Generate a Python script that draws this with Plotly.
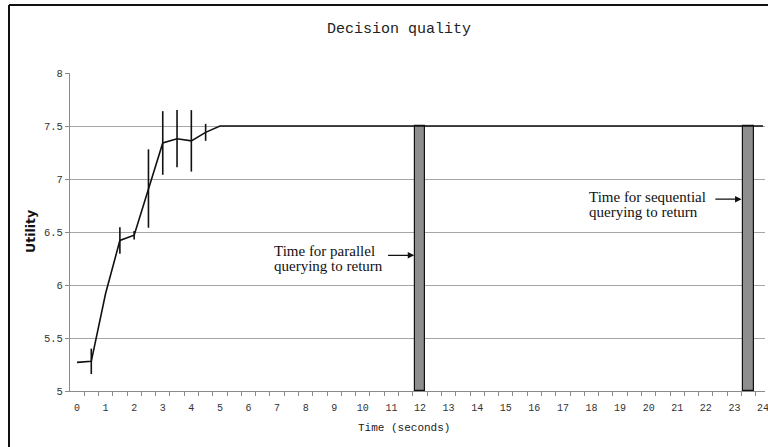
import plotly.graph_objects as go

# Mean utility of the decision over time, with spread of the estimate
time_s = [0, 0.5, 1, 1.5, 2, 2.5, 3, 3.5, 4, 4.5, 5, 24]
utility = [5.27, 5.28, 5.92, 6.42, 6.47, 6.91, 7.34, 7.38, 7.36, 7.44, 7.5, 7.5]
utility_err = [0, 0.12, 0, 0.125, 0.04, 0.37, 0.30, 0.27, 0.29, 0.08, 0, 0]

# Moments when each querying strategy returns its answer
return_times = [12, 23.5]
return_utility = [7.5, 7.5]
axis_floor = 5

x_ticks = list(range(0, 25))
y_ticks = [5, 5.5, 6, 6.5, 7, 7.5, 8]

MONO = "Liberation Mono, Courier New, monospace"
SERIF = "Liberation Serif, Times New Roman, serif"
INK = "#111111"
AXIS = "#8a8a8a"

fig = go.Figure()

fig.add_trace(go.Bar(
    x=return_times,
    y=[u - axis_floor for u in return_utility],
    base=axis_floor,
    width=0.38,
    marker=dict(color="#8e8e8e", line=dict(color=INK, width=1.2)),
    showlegend=False,
    hoverinfo="skip",
))

fig.add_trace(go.Scatter(
    x=time_s,
    y=utility,
    mode="lines",
    line=dict(color=INK, width=1.6),
    error_y=dict(type="data", array=utility_err, visible=True,
                 color=INK, thickness=1.6, width=0),
    showlegend=False,
))

fig.update_layout(
    width=768,
    height=447,
    margin=dict(l=70, r=3, t=73, b=56),
    paper_bgcolor="white",
    plot_bgcolor="white",
    bargap=0,
    xaxis=dict(
        range=[-0.245, 24.07],
        automargin=False,
        tickmode="array",
        tickvals=x_ticks,
        ticktext=[str(v) for v in x_ticks],
        ticks="outside",
        ticklen=7,
        tickcolor="rgba(0,0,0,0)",
        ticklabeloverflow="allow",
        showgrid=False,
        zeroline=False,
        showline=True,
        linecolor=AXIS,
        linewidth=1,
        tickfont=dict(family=MONO, size=10, color="#333333"),
        minor=dict(tick0=-0.25, dtick=0.5, ticks="outside", ticklen=4,
                   tickcolor=AXIS, tickwidth=1, showgrid=False),
    ),
    yaxis=dict(
        range=[5, 8],
        automargin=False,
        tickmode="array",
        tickvals=y_ticks,
        ticktext=[f"{v:g}" for v in y_ticks],
        ticks="outside",
        ticklen=4,
        tickcolor=AXIS,
        showgrid=True,
        gridcolor="#a6a6a6",
        gridwidth=1,
        zeroline=False,
        showline=True,
        linecolor=AXIS,
        linewidth=1,
        tickfont=dict(family=MONO, size=10.5, color="#333333"),
    ),
    annotations=[
        dict(text="Decision quality", xref="paper", yref="paper",
             x=0.474, y=1 + 44 / 318, xanchor="center", yanchor="middle",
             showarrow=False, font=dict(family=MONO, size=15, color="#222222")),
        dict(text="Time (seconds)", xref="paper", yref="paper",
             x=0.481, y=-37 / 318, xanchor="center", yanchor="middle",
             showarrow=False, font=dict(family=MONO, size=11, color="#222222")),
        dict(text="<b>Utility</b>", xref="paper", yref="paper",
             x=-40 / 695, y=0.5, xanchor="center", yanchor="middle",
             textangle=-90, showarrow=False,
             font=dict(family="DejaVu Sans, Verdana, sans-serif", size=12.5, color=INK)),
        # parallel querying label
        dict(text="Time for parallel", x=6.82, y=6.32, xanchor="left", yanchor="middle",
             showarrow=False, font=dict(family=SERIF, size=15, color=INK)),
        dict(text="querying to return", x=6.82, y=6.18, xanchor="left", yanchor="middle",
             showarrow=False, font=dict(family=SERIF, size=15, color=INK)),
        dict(text="", x=11.80, y=6.28, ax=10.83, ay=6.28, axref="x", ayref="y",
             showarrow=True, arrowhead=2, arrowsize=1, arrowwidth=1.3, arrowcolor=INK),
        # sequential querying label
        dict(text="Time for sequential", x=17.85, y=6.83, xanchor="left", yanchor="middle",
             showarrow=False, font=dict(family=SERIF, size=15, color=INK)),
        dict(text="querying to return", x=17.85, y=6.69, xanchor="left", yanchor="middle",
             showarrow=False, font=dict(family=SERIF, size=15, color=INK)),
        dict(text="", x=23.25, y=6.81, ax=22.28, ay=6.81, axref="x", ayref="y",
             showarrow=True, arrowhead=2, arrowsize=1, arrowwidth=1.3, arrowcolor=INK),
    ],
    shapes=[
        # frame around the whole chart
        dict(type="line", xref="paper", yref="paper",
             x0=-61 / 695, x1=-61 / 695, y0=-1, y1=386 / 318,
             line=dict(color=INK, width=2)),
        dict(type="line", xref="paper", yref="paper",
             x0=-61 / 695, x1=1.5, y0=386 / 318, y1=386 / 318,
             line=dict(color=INK, width=2)),
    ],
)

fig.write_html("out.html")
